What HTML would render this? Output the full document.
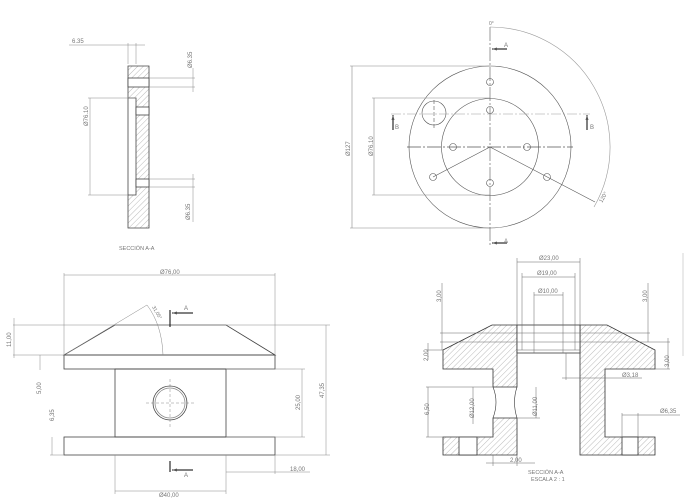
<!DOCTYPE html>
<html><head><meta charset="utf-8"><style>
html,body{margin:0;padding:0;background:#fff;}
svg{display:block;}
text{font-family:"Liberation Sans",sans-serif;font-size:6px;fill:#777;}
</style></head><body>
<svg width="691" height="502" viewBox="0 0 691 502" xmlns="http://www.w3.org/2000/svg">
<defs>
<pattern id="h" patternUnits="userSpaceOnUse" width="4" height="4" patternTransform="rotate(45)">
<rect width="4" height="4" fill="#fff"/><line x1="0" y1="0" x2="0" y2="4" stroke="#777" stroke-width="0.5"/></pattern>
<marker id="a" markerWidth="6" markerHeight="6" refX="5" refY="3" orient="auto"><path d="M0,1.5 L5,3 L0,4.5z" fill="#555"/></marker>
</defs>
<g stroke="#444" stroke-width="0.8" fill="none">
<path d="M128,66 H149 V228 H128 V195 H136 V98 H128 Z" fill="url(#h)"/>
<rect x="128" y="78" width="21" height="9" fill="#fff"/>
<rect x="136" y="107" width="13" height="8" fill="#fff"/>
<rect x="136" y="179" width="13" height="8" fill="#fff"/>
<line x1="128" y1="98" x2="128" y2="195"/>
</g>
<g stroke="#888" stroke-width="0.5" fill="none">
<line x1="69" y1="45" x2="145" y2="45"/><line x1="128" y1="43" x2="128" y2="64"/><line x1="136" y1="43" x2="136" y2="64"/>
<line x1="149" y1="78" x2="195" y2="78"/><line x1="149" y1="87" x2="195" y2="87"/><line x1="193" y1="68" x2="193" y2="92"/>
<line x1="149" y1="179" x2="195" y2="179"/><line x1="149" y1="187" x2="195" y2="187"/><line x1="193" y1="174" x2="193" y2="222"/>
<line x1="88" y1="98" x2="136" y2="98"/><line x1="88" y1="195" x2="128" y2="195"/><line x1="90" y1="98" x2="90" y2="195"/>
</g>
<text x="72" y="43">6.35</text>
<text transform="translate(192,68) rotate(-90)">Ø6.35</text>
<text transform="translate(190,220) rotate(-90)">Ø6.35</text>
<text transform="translate(88,126) rotate(-90)">Ø76.10</text>
<text x="119" y="250" style="font-size:5.5px">SECCIÓN A-A</text>

<g stroke="#555" stroke-width="0.6" fill="none">
<circle cx="490" cy="147" r="81"/><circle cx="490" cy="147" r="48.5"/>
<circle cx="434" cy="113" r="12"/>
<circle cx="490" cy="82" r="3.5"/><circle cx="490" cy="110" r="3.5"/><circle cx="453" cy="147" r="3.5"/><circle cx="527" cy="147" r="3.5"/>
<circle cx="433" cy="177" r="3.5"/><circle cx="547" cy="177" r="3.5"/><circle cx="490" cy="183" r="3.5"/>
<line x1="490" y1="27" x2="490" y2="246" stroke-dasharray="14,2,2,2"/>
<line x1="407" y1="147" x2="573" y2="147" stroke-width="0.8" stroke-dasharray="14,2,2,2"/>
<line x1="391" y1="114" x2="590" y2="114" stroke="#999" stroke-dasharray="10,2,2,2"/>
<line x1="434" y1="100" x2="434" y2="128" stroke-dasharray="4,2"/>
<line x1="490" y1="147" x2="433" y2="177"/><line x1="490" y1="147" x2="595" y2="202"/>
<path d="M490,27 A120,120 0 0 1 594,207" stroke="#999"/>
<line x1="350" y1="66" x2="490" y2="66" stroke="#888"/><line x1="350" y1="228" x2="490" y2="228" stroke="#888"/><line x1="352" y1="66" x2="352" y2="228" stroke="#888"/>
<line x1="372" y1="98" x2="490" y2="98" stroke="#888"/><line x1="372" y1="195" x2="490" y2="195" stroke="#888"/><line x1="374" y1="98" x2="374" y2="195" stroke="#888"/>
</g>
<g stroke="#000" stroke-width="1">
<line x1="507" y1="49" x2="492" y2="49" marker-end="url(#a)"/>
<line x1="507" y1="243" x2="492" y2="243" marker-end="url(#a)"/>
<line x1="393" y1="130" x2="393" y2="115" marker-end="url(#a)"/>
<line x1="587" y1="130" x2="587" y2="115" marker-end="url(#a)"/>
</g>
<text x="489" y="25" style="font-size:5px">0°</text>
<text x="504" y="47">A</text><text x="504" y="243">A</text>
<text x="395" y="129">B</text><text x="590" y="129">B</text>
<text transform="translate(602,203) rotate(-60)" style="font-size:5.5px">120°</text>
<text transform="translate(350,156) rotate(-90)">Ø127</text>
<text transform="translate(373,156) rotate(-90)">Ø76.10</text>

<g stroke="#444" stroke-width="0.8" fill="none">
<path d="M64,355 L115,325 H226 L275,355 Z"/>
<rect x="64" y="355" width="211" height="14"/>
<rect x="115" y="369" width="111" height="68"/>
<rect x="64" y="437" width="211" height="18"/>
<circle cx="170" cy="403" r="17"/><circle cx="170" cy="403" r="15" stroke="#888"/>
</g>
<g stroke="#888" stroke-width="0.5" fill="none">
<line x1="64" y1="273" x2="64" y2="355"/><line x1="275" y1="273" x2="275" y2="355"/><line x1="64" y1="275" x2="275" y2="275"/>
<line x1="13" y1="325" x2="330" y2="325"/><line x1="13" y1="355" x2="64" y2="355"/><line x1="14" y1="318" x2="14" y2="358"/>
<line x1="40" y1="355" x2="40" y2="370"/><line x1="52" y1="437" x2="52" y2="455"/><line x1="50" y1="455" x2="64" y2="455"/>
<line x1="275" y1="455" x2="330" y2="455"/><line x1="326" y1="325" x2="326" y2="455"/>
<line x1="226" y1="369" x2="305" y2="369"/><line x1="226" y1="437" x2="305" y2="437"/><line x1="302" y1="369" x2="302" y2="437"/>
<line x1="226" y1="455" x2="226" y2="474"/><line x1="275" y1="455" x2="275" y2="474"/><line x1="226" y1="472" x2="310" y2="472"/>
<line x1="115" y1="455" x2="115" y2="494"/><line x1="226" y1="474" x2="226" y2="494"/><line x1="115" y1="491" x2="226" y2="491"/>
<line x1="64" y1="355" x2="147" y2="305"/><path d="M147,305 Q162,325 163,355"/>
<line x1="146" y1="403" x2="194" y2="403" stroke-dasharray="3,2"/><line x1="170" y1="379" x2="170" y2="427" stroke-dasharray="3,2"/>
</g>
<g stroke="#000" stroke-width="1">
<line x1="170" y1="310" x2="170" y2="327"/><line x1="193" y1="313" x2="172" y2="313" marker-end="url(#a)"/>
<line x1="170" y1="461" x2="170" y2="472"/><line x1="193" y1="470" x2="172" y2="470" marker-end="url(#a)"/>
</g>
<text x="160" y="274">Ø76,00</text>
<text x="184" y="310">A</text><text x="184" y="477">A</text>
<text transform="translate(152,307) rotate(60)" style="font-size:5px">31,05°</text>
<text transform="translate(11,347) rotate(-90)">11,00</text>
<text transform="translate(41,394) rotate(-90)">5,00</text>
<text transform="translate(54,421) rotate(-90)">6,35</text>
<text transform="translate(300,410) rotate(-90)">25,00</text>
<text transform="translate(324,398) rotate(-90)">47,35</text>
<text x="290" y="471">18,00</text>
<text x="159" y="497">Ø40,00</text>

<g stroke="#333" stroke-width="0.8">
<path d="M492,325 H517 V387 H493 V369 H443 V350 Z" fill="url(#h)"/>
<path d="M493,418 H517 V455 H443 V437 H493 Z" fill="url(#h)"/>
<path d="M580,325 H607 L655,350 V369 H605 V437 H655 V455 H580 Z" fill="url(#h)"/>
<rect x="459" y="437" width="18" height="18" fill="#fff"/>
<rect x="622" y="437" width="16" height="18" fill="#fff"/>
<rect x="517" y="325" width="63" height="28" fill="#fff"/>
<path d="M493,387 Q499,402 493,418 M517,387 Q512,402 517,418" fill="none" stroke-width="0.6"/>
</g>
<g stroke="#666" stroke-width="0.5" fill="none">
<line x1="517" y1="333" x2="580" y2="333"/><line x1="517" y1="342" x2="580" y2="342"/><line x1="517" y1="350" x2="580" y2="350"/><line x1="517" y1="353" x2="580" y2="353"/>
<line x1="517" y1="258" x2="517" y2="325"/><line x1="580" y1="258" x2="580" y2="325"/><line x1="517" y1="262" x2="580" y2="262"/>
<line x1="522" y1="273" x2="522" y2="350"/><line x1="575" y1="273" x2="575" y2="350"/><line x1="522" y1="277" x2="575" y2="277"/>
<line x1="534" y1="292" x2="534" y2="353"/><line x1="563" y1="292" x2="563" y2="353"/><line x1="534" y1="295" x2="563" y2="295"/>
<line x1="442" y1="283" x2="442" y2="350"/><line x1="440" y1="333" x2="517" y2="333"/><line x1="440" y1="342" x2="517" y2="342"/>
<line x1="648" y1="283" x2="648" y2="342"/><line x1="580" y1="333" x2="650" y2="333"/><line x1="580" y1="342" x2="670" y2="342"/>
<line x1="428" y1="343" x2="428" y2="360"/><line x1="426" y1="350" x2="443" y2="350"/>
<line x1="668" y1="338" x2="668" y2="369"/><line x1="655" y1="369" x2="670" y2="369"/>
<line x1="566" y1="353" x2="566" y2="380"/><line x1="562" y1="378" x2="642" y2="378"/>
<line x1="428" y1="387" x2="428" y2="437"/><line x1="426" y1="387" x2="493" y2="387"/><line x1="426" y1="437" x2="493" y2="437"/>
<line x1="473" y1="387" x2="473" y2="424"/><line x1="536" y1="387" x2="536" y2="418"/><line x1="517" y1="418" x2="540" y2="418"/>
<line x1="622" y1="413" x2="622" y2="437"/><line x1="638" y1="413" x2="638" y2="437"/><line x1="622" y1="415" x2="680" y2="415"/>
<line x1="493" y1="455" x2="493" y2="466"/><line x1="517" y1="455" x2="517" y2="466"/><line x1="486" y1="463" x2="535" y2="463"/>
<line x1="683" y1="253" x2="683" y2="356" stroke="#aaa"/>
</g>
<text x="539" y="260">Ø23,00</text>
<text x="537" y="275">Ø19,00</text>
<text x="538" y="293">Ø10,00</text>
<text transform="translate(441,302) rotate(-90)">3,00</text>
<text transform="translate(647,302) rotate(-90)">3,00</text>
<text transform="translate(428,361) rotate(-90)">2,00</text>
<text transform="translate(669,367) rotate(-90)">3,00</text>
<text x="622" y="377">Ø3,18</text>
<text transform="translate(429,415) rotate(-90)">6,50</text>
<text transform="translate(474,418) rotate(-90)">Ø12,00</text>
<text transform="translate(537,416) rotate(-90)">Ø11,00</text>
<text x="660" y="413">Ø6,35</text>
<text x="510" y="462">2,00</text>
<text x="528" y="474" style="font-size:5.5px">SECCIÓN A-A</text>
<text x="531" y="481" style="font-size:5.5px">ESCALA 2 : 1</text>
</svg>
</body></html>
